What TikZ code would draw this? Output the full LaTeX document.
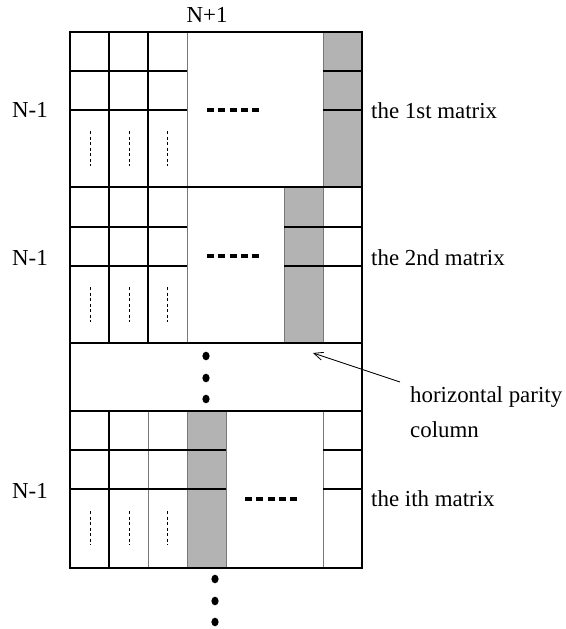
\documentclass[tikz,border=0pt]{standalone}
\usepackage{fontspec}
\setmainfont{Liberation Serif}
\usetikzlibrary{arrows.meta}
\definecolor{pgray}{RGB}{179,179,179}
\definecolor{lgray}{RGB}{120,120,120}
\begin{document}
\begin{tikzpicture}[x=1pt,y=-1pt,
  thin line/.style={line width=1.1pt,black},
  soft line/.style={line width=1pt,lgray},
  heavy/.style={line width=1.7pt,black},
  dashrow/.style={line width=3.5pt,dash pattern=on 7pt off 4.25pt},
  vdots/.style={line width=0.7pt,dash pattern=on 3pt off 2.5pt},
  bigdot/.style={fill=black,draw=none},
  lbl/.style={font=\fontsize{22.9}{27}\selectfont,inner sep=0pt},
  parity/.style={fill=pgray,draw=none}]
\useasboundingbox (0,0) rectangle (565,629);
% gray parity columns
\fill[parity] (323,32) rectangle (362,187);
\fill[parity] (284,187) rectangle (323,343);
\fill[parity] (187,411) rectangle (226,568);
% ---------- matrix 1
\draw[thin line] (109,32) -- (109,187) (148,32) -- (148,187);
\draw[soft line] (187,32) -- (187,187) (323,32) -- (323,187);
\draw[thin line] (70,71) -- (187,71) (70,110) -- (187,110);
\draw[line width=1.5pt] (323,71) -- (362,71) (323,110) -- (362,110);
% ---------- matrix 2
\draw[thin line] (109,187) -- (109,343) (148,187) -- (148,343);
\draw[soft line] (187,187) -- (187,343) (284,187) -- (284,343) (323,187) -- (323,343);
\draw[thin line] (70,227) -- (187,227) (70,266) -- (187,266);
\draw[line width=1.5pt] (284,227) -- (323,227) (284,266) -- (323,266);
\draw[thin line] (323,227) -- (362,227) (323,266) -- (362,266);
% ---------- matrix i
\draw[thin line] (109,411) -- (109,568);
\draw[soft line] (148,411) -- (148,568) (187,411) -- (187,568) (226,411) -- (226,568) (323,411) -- (323,568);
\draw[thin line] (70,450) -- (187,450) (70,489) -- (187,489);
\draw[line width=1.5pt] (187,450) -- (226,450) (187,489) -- (226,489);
\draw[thin line] (323,450) -- (362,450) (323,489) -- (362,489);
% ---------- separators and outer frame
\draw[heavy] (70,187) -- (362,187) (70,343) -- (362,343) (70,411) -- (362,411);
\draw[heavy] (70,32) rectangle (362,568);
% ---------- dashes
\draw[dashrow] (207,110) -- (259,110);
\draw[dashrow] (207,256) -- (259,256);
\draw[dashrow] (245,499) -- (297,499);
% ---------- vertical dotted lines
\foreach \x in {90,129,167}{
  \draw[vdots] (\x,131) -- (\x,166);
  \draw[vdots] (\x,287) -- (\x,322);
  \draw[vdots] (\x,511) -- (\x,545);
}
% ---------- big dots
\foreach \y in {356,378,399}{\fill[bigdot] (206,\y) ellipse [x radius=3.6, y radius=4.3];}
\foreach \y in {579,601,622}{\fill[bigdot] (215,\y) ellipse [x radius=3.6, y radius=4.3];}
% ---------- labels
\node[lbl] (np1) at (207,15) {N+1};
\node[lbl,anchor=west] (nm1a) at (12,110) {N-1};
\node[lbl,anchor=west] (nm1b) at (12,258) {N-1};
\node[lbl,anchor=west] (nm1c) at (12,491) {N-1};
\node[lbl,anchor=base west] (m1) at (371,118) {the 1st matrix};
\node[lbl,anchor=base west] (m2) at (371,265) {the 2nd matrix};
\node[lbl,anchor=base west] (mi) at (371,506) {the ith matrix};
\node[lbl,anchor=base west] (hp) at (410,402) {horizontal parity};
\node[lbl,anchor=base west] (col) at (410,437) {column};
\coordinate (astart) at (400,382);
\coordinate (aend) at (313,353);
\draw[line width=0.8pt,-{Straight Barb[length=9pt,width=8pt]}] (astart) -- (aend);
\end{tikzpicture}
\end{document}
